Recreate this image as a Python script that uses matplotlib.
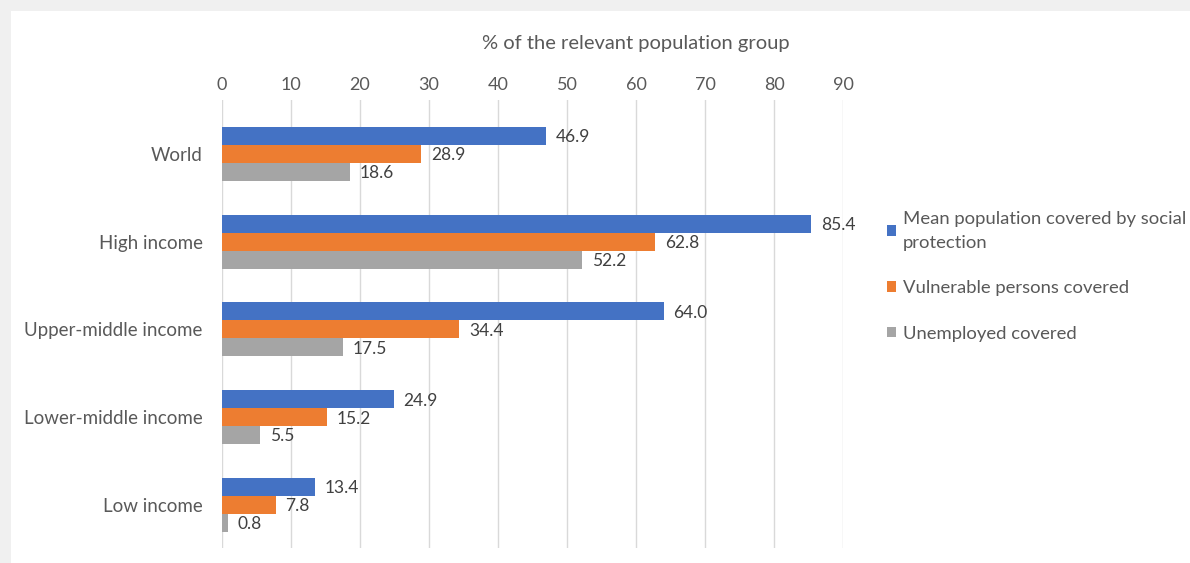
"""
Social protection coverage by income group
"""
import matplotlib.pyplot as plt
import matplotlib
from matplotlib.patches import Rectangle
import numpy as np

matplotlib.rcParams['font.family'] = ['Lato', 'DejaVu Sans']

groups = ['World', 'High income', 'Upper-middle income', 'Lower-middle income', 'Low income']
series_names = ['Mean population covered by social\nprotection',
                'Vulnerable persons covered',
                'Unemployed covered']
mean_covered = [46.9, 85.4, 64.0, 24.9, 13.4]
vulnerable = [28.9, 62.8, 34.4, 15.2, 7.8]
unemployed = [18.6, 52.2, 17.5, 5.5, 0.8]
xticks = [0, 10, 20, 30, 40, 50, 60, 70, 80, 90]

colors = ['#4472C4', '#ED7D31', '#A5A5A5']
text_color = '#595959'

fig = plt.figure(figsize=(11.9, 5.63), dpi=100, facecolor='#f0f0f0')
# white chart area inside the grey frame
fig.patches.append(Rectangle((11 / 1190, 0), 1, 1 - 11 / 563, transform=fig.transFigure,
                             facecolor='white', edgecolor='none', zorder=-5))

ax = fig.add_axes([0.1866, 0.027, 0.5218, 0.796])
ax.set_facecolor('none')

y = np.arange(len(groups))
h = 0.205
for i, (vals, name, c) in enumerate(zip([mean_covered, vulnerable, unemployed], series_names, colors)):
    pos = y + (i - 1) * h
    bars = ax.barh(pos, vals, height=h, color=c, label=name, zorder=3)
    for b, v in zip(bars, vals):
        ax.annotate(f'{v:.1f}', xy=(b.get_width(), b.get_y() + b.get_height() / 2),
                    xytext=(7, -1), textcoords='offset points', va='center', ha='left',
                    fontsize=12.5, color='#404040')

ax.set_xlim(0, 90)
ax.set_ylim(4.49, -0.62)
ax.set_xticks(xticks)
ax.set_yticks(y)
ax.set_yticklabels(groups)
ax.xaxis.tick_top()
ax.tick_params(axis='both', length=0, labelcolor=text_color)
ax.tick_params(axis='x', pad=5, labelsize=13)
ax.tick_params(axis='y', pad=14, labelsize=13.5)
ax.grid(axis='x', color='#d9d9d9', linewidth=1, zorder=0)
for s in ax.spines.values():
    s.set_visible(False)

# axis title sits right of the plot centre, as in the original
fig.text(0.534, 1 - 43 / 563, '% of the relevant population group', ha='center', va='center',
         fontsize=14.5, color=text_color)

leg = fig.legend(loc='upper left', bbox_to_anchor=(0.731, 0.655), frameon=False,
                 fontsize=13.3, labelcolor=text_color, handlelength=0.5, handleheight=0.5,
                 handletextpad=0.4, labelspacing=1.6)
for t in leg.get_texts():
    t.set_linespacing(1.6)

plt.savefig('out.png', facecolor=fig.get_facecolor())
plt.close()
